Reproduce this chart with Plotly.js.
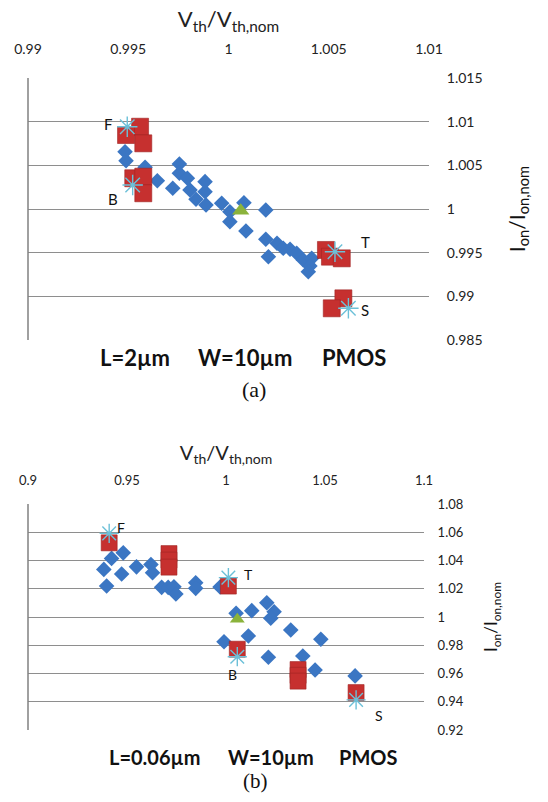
<!DOCTYPE html>
<html>
<head>
<meta charset="utf-8">
<script src="https://cdn.plot.ly/plotly-3.0.1.min.js"></script>
<style>html,body{margin:0;padding:0;background:#fff;}#chart{width:548px;height:802px;}</style>
</head>
<body>
<div id="chart"></div>
<script>
// ---------- Data: panel (a)  L=2µm ----------
const aDiamondX = [0.99484,0.99489,0.99584,0.99645,0.99722,0.99755,0.99755,0.99795,0.99808,0.99838,0.99883,0.99883,0.99888,0.99966,1.00007,1.00077,1.00007,1.00186,1.00087,1.00186,1.00242,1.00199,1.00307,1.00340,1.00373,1.00415,1.00406,1.00398,1.00273];
const aDiamondY = [1.00656,1.00553,1.00477,1.00324,1.00237,1.00515,1.00409,1.00352,1.00218,1.00111,1.00313,1.00198,1.00046,1.00065,0.99969,1.00072,0.99855,0.99989,0.99748,0.99653,0.99607,0.99454,0.99539,0.99493,0.99416,0.99435,0.99347,0.99282,0.99550];
const aSquareX = [0.99559,0.99489,0.99575,0.99525,0.99575,0.99575,1.00486,1.00506,1.00565,1.00573,1.00515];
const aSquareY = [1.00942,1.00847,1.00752,1.00352,1.00370,1.00180,0.99531,0.99454,0.99435,0.98977,0.98863];
const aTriangleX = [1.00061];
const aTriangleY = [0.99981];
const aStarX = [0.99495,0.99522,1.00531,1.00598];
const aStarY = [1.00942,1.00275,0.99511,0.98863];
const aStarLabels = ['F','B','T','S'];
const aXTicks = [0.99,0.995,1,1.005,1.01];
const aXTickText = ['0.99','0.995','1','1.005','1.01'];
const aYTicks = [0.985,0.99,0.995,1,1.005,1.01,1.015];
const aYTickText = ['0.985','0.99','0.995','1','1.005','1.01','1.015'];
const aCaption = ['L=2µm','W=10µm','PMOS'];

// ---------- Data: panel (b)  L=0.06µm ----------
const bDiamondX = [0.9481,0.9422,0.9383,0.9473,0.9397,0.9548,0.9621,0.9629,0.9675,0.9708,0.9737,0.9747,0.9847,0.9847,0.9970,1.0051,1.0130,1.0206,1.0243,1.0226,1.0327,1.0113,0.9990,1.0479,1.0214,1.0388,1.0450,1.0652];
const bDiamondY = [1.0454,1.0415,1.0337,1.0304,1.0219,1.0355,1.0372,1.0313,1.0210,1.0210,1.0214,1.0163,1.0242,1.0203,1.0212,1.0026,1.0045,1.0101,1.0037,0.9991,0.9908,0.9866,0.9825,0.9842,0.9715,0.9724,0.9625,0.9583];
const bSquareX = [0.9410,0.9712,0.9712,0.9712,1.0012,1.0057,1.0364,1.0364,1.0364,1.0657];
const bSquareY = [1.0525,1.0449,1.0403,1.0353,1.0219,0.9772,0.9628,0.9587,0.9546,0.9465];
const bTriangleX = [1.0057];
const bTriangleY = [0.9984];
const bStarX = [0.9410,1.0012,1.0057,1.0657];
const bStarY = [1.0592,1.0279,0.9719,0.9413];
const bStarLabels = ['F','T','B','S'];
const bXTicks = [0.9,0.95,1,1.05,1.1];
const bXTickText = ['0.9','0.95','1','1.05','1.1'];
const bYTicks = [0.92,0.94,0.96,0.98,1,1.02,1.04,1.06,1.08];
const bYTickText = ['0.92','0.94','0.96','0.98','1','1.02','1.04','1.06','1.08'];
const bCaption = ['L=0.06µm','W=10µm','PMOS'];

const xTitle = 'V<sub>th</sub>/V<sub>th,nom</sub>';
const yTitle = 'I<sub>on</sub>/I<sub>on,nom</sub>';

// ---------- Styles ----------
const FONT = 'Lato, "Open Sans", sans-serif';
const BLUE = '#3b76c3', RED = '#c6302f', GREEN = '#8bb33c', CYAN = '#6cc0d8', GRID = '#8e8e8e';

function seriesFor(d, xa, ya, sz){
  return [
    {x: d.dx, y: d.dy, xaxis: xa, yaxis: ya, type:'scatter', mode:'markers', hoverinfo:'skip',
     marker:{symbol:'diamond', size:sz.d, color:BLUE, line:{width:0}}},
    {x: d.sx, y: d.sy, xaxis: xa, yaxis: ya, type:'scatter', mode:'markers', hoverinfo:'skip',
     marker:{symbol:'square', size:sz.s, color:RED, line:{width:0.6, color:'#a02524'}}},
    {x: d.tx, y: d.ty, xaxis: xa, yaxis: ya, type:'scatter', mode:'markers', hoverinfo:'skip',
     marker:{symbol:'triangle-up', size:sz.t, color:GREEN, line:{width:0}}},
    {x: d.ax, y: d.ay, xaxis: xa, yaxis: ya, type:'scatter', mode:'markers', hoverinfo:'skip',
     marker:{symbol:'asterisk-open', size:sz.a, color:CYAN, line:{width:1.4, color:CYAN}}}
  ];
}

const traces = [].concat(
  seriesFor({dx:aDiamondX,dy:aDiamondY,sx:aSquareX,sy:aSquareY,tx:aTriangleX,ty:aTriangleY,ax:aStarX,ay:aStarY},'x','y',{d:12,s:17,t:15,a:17}),
  seriesFor({dx:bDiamondX,dy:bDiamondY,sx:bSquareX,sy:bSquareY,tx:bTriangleX,ty:bTriangleY,ax:bStarX,ay:bStarY},'x2','y2',{d:12,s:16,t:13,a:16})
);

const W = 548, H = 802;
const px = v => v / W, py = v => 1 - v / H;

// plot frames (pixels)
const frameA = {l:28, r:429, t:78, b:340};
const frameB = {l:28, r:424, t:504, b:730};

// label offsets (pixels) for the star labels
const aLabelShift = [[-19,3],[-20,-14],[31,10],[17,-2]];
const bLabelShift = [[12,6],[20,3],[-5,-18],[23,-16]];

const annotations = [];
aStarLabels.forEach((t,i)=>annotations.push({x:aStarX[i], y:aStarY[i], xref:'x', yref:'y', text:t, showarrow:false,
  xshift:aLabelShift[i][0], yshift:aLabelShift[i][1], font:{family:FONT, size:15, color:'#111'}}));
bStarLabels.forEach((t,i)=>annotations.push({x:bStarX[i], y:bStarY[i], xref:'x2', yref:'y2', text:t, showarrow:false,
  xshift:bLabelShift[i][0], yshift:bLabelShift[i][1], font:{family:FONT, size:14, color:'#111'}}));

// captions
const aCapX = [134.5, 245, 353.5], bCapX = [155, 270.5, 367.5];
aCaption.forEach((t,i)=>annotations.push({x:px(aCapX[i]), y:py(357), xref:'paper', yref:'paper', text:'<b>'+t+'</b>', showarrow:false,
  xanchor:'center', yanchor:'middle', borderpad:0, font:{family:FONT, size:22, color:'#111'}}));
bCaption.forEach((t,i)=>annotations.push({x:px(bCapX[i]), y:py(757), xref:'paper', yref:'paper', text:'<b>'+t+'</b>', showarrow:false,
  xanchor:'center', yanchor:'middle', borderpad:0, font:{family:FONT, size:20, color:'#111'}}));
annotations.push({x:px(254), y:py(389), xref:'paper', yref:'paper', text:'(a)', showarrow:false, xanchor:'center', yanchor:'middle', borderpad:0,
  font:{family:'"Liberation Serif", "DejaVu Serif", serif', size:22, color:'#111'}});
annotations.push({x:px(255), y:py(781), xref:'paper', yref:'paper', text:'(b)', showarrow:false, xanchor:'center', yanchor:'middle', borderpad:0,
  font:{family:'"Liberation Serif", "DejaVu Serif", serif', size:21, color:'#111'}});

// left frame line of each plot
const shapes = [frameA, frameB].map(f => ({type:'line', xref:'paper', yref:'paper', layer:'above',
  x0:px(f.l), x1:px(f.l), y0:py(f.b), y1:py(f.t), line:{color:'#808080', width:1.5}}));

const tickOut = {ticks:'outside', tickcolor:'rgba(0,0,0,0)', tickwidth:1};

const layout = {
  width:W, height:H, margin:{l:0,r:0,t:0,b:0}, showlegend:false,
  paper_bgcolor:'#fff', plot_bgcolor:'rgba(0,0,0,0)',
  xaxis:Object.assign({domain:[px(frameA.l),px(frameA.r)], range:[0.99,1.01], side:'top', anchor:'y', showgrid:false, zeroline:false, showline:false,
    tickvals:aXTicks, ticktext:aXTickText, ticklen:17, tickfont:{family:FONT,size:14,color:'#222'},
    title:{text:xTitle, standoff:6, font:{family:FONT,size:22,color:'#222'}}}, tickOut),
  yaxis:Object.assign({domain:[py(frameA.b),py(frameA.t)], range:[0.985,1.015], side:'right', anchor:'x', showgrid:true, gridcolor:GRID, gridwidth:1,
    zeroline:false, showline:false, tickvals:aYTicks, ticktext:aYTickText, ticklen:14, tickfont:{family:FONT,size:14,color:'#222'},
    title:{text:yTitle, standoff:28, font:{family:FONT,size:21,color:'#111'}}}, tickOut),
  xaxis2:Object.assign({domain:[px(frameB.l),px(frameB.r)], range:[0.9,1.1], side:'top', anchor:'y2', showgrid:false, zeroline:false, showline:false,
    tickvals:bXTicks, ticktext:bXTickText, ticklen:13, tickfont:{family:FONT,size:13,color:'#222'},
    title:{text:xTitle, standoff:5, font:{family:FONT,size:20,color:'#222'}}}, tickOut),
  yaxis2:Object.assign({domain:[py(frameB.b),py(frameB.t)], range:[0.92,1.08], side:'right', anchor:'x2', showgrid:true, gridcolor:GRID, gridwidth:1,
    zeroline:false, showline:false, tickvals:bYTicks, ticktext:bYTickText, ticklen:10, tickfont:{family:FONT,size:13,color:'#222'},
    title:{text:yTitle, standoff:22, font:{family:FONT,size:17,color:'#111'}}}, tickOut),
  shapes:shapes,
  annotations:annotations
};

Plotly.newPlot('chart', traces, layout, {displayModeBar:false, staticPlot:true});
</script>
</body>
</html>
